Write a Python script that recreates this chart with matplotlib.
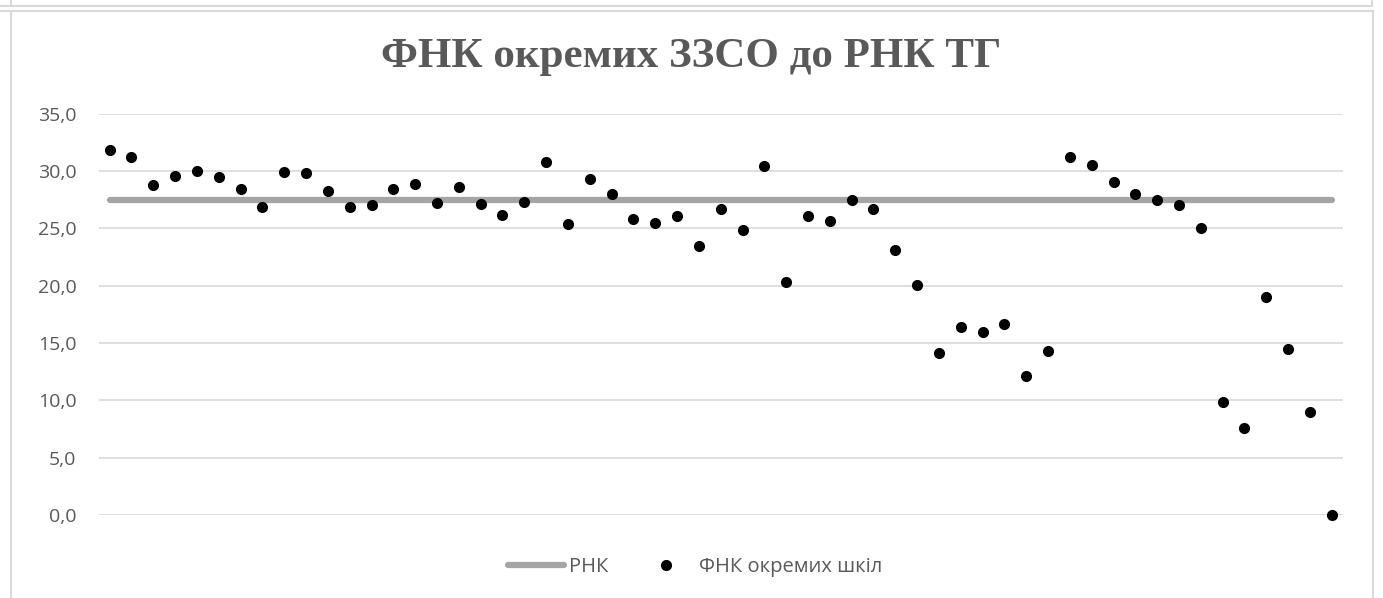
import numpy as np
import matplotlib
matplotlib.use("Agg")
import matplotlib.pyplot as plt
from matplotlib.lines import Line2D

# values
school_idx = list(range(1, 58))
fnk = [31.8, 31.2, 28.8, 29.6, 30.0, 29.5, 28.4, 26.9, 29.9, 29.8,
       28.3, 26.9, 27.0, 28.4, 28.9, 27.2, 28.6, 27.1, 26.2, 27.3,
       30.8, 25.4, 29.3, 28.0, 25.8, 25.5, 26.1, 23.5, 26.7, 24.9,
       30.4, 20.3, 26.1, 25.6, 27.5, 26.7, 23.1, 20.1, 14.1, 16.4,
       16.0, 16.7, 12.1, 14.3, 31.2, 30.5, 29.0, 28.0, 27.5, 27.0,
       25.0, 9.85, 7.6, 19.0, 14.5, 9.0, 0.0]
rnk = [27.5] * len(school_idx)
yticks = [0, 5, 10, 15, 20, 25, 30, 35]

title = "ФНК окремих ЗЗСО до РНК ТГ"
label_rnk = "РНК"
label_fnk = "ФНК окремих шкіл"

txt_col = "#595959"
W, H = 1383, 598
fig = plt.figure(figsize=(W / 100, H / 100), dpi=100)
ax = fig.add_axes([98.7 / W, 1 - 515 / H, (1342.7 - 98.7) / W, (515 - 113.7) / H])

ax.plot(school_idx, rnk, color="#a5a5a5", lw=4.5, solid_capstyle="round", zorder=2)
ax.plot(school_idx, fnk, ls="none", marker="o", ms=7, color="black", zorder=3, clip_on=False)

ax.set_xlim(0.5, len(school_idx) + 0.5)
ax.set_ylim(0, 35)
ax.set_yticks(yticks)
ax.set_yticklabels([f"{v:.1f}".replace(".", ",") for v in yticks],
                   fontsize=14, color=txt_col, family="Open Sans")
ax.set_xticks([])
ax.tick_params(axis="y", length=0, pad=16)
ax.grid(axis="y", color="#d9d9d9", lw=1.2, zorder=0)
ax.set_axisbelow(True)
for s in ax.spines.values():
    s.set_visible(False)

fig.text(0.5, 1 - 57 / H, title, ha="center", va="center", fontsize=31,
         fontweight="bold", family="Liberation Serif", color=txt_col)

handles = [Line2D([], [], color="#a5a5a5", lw=4.5, solid_capstyle="round"),
           Line2D([], [], ls="none", marker="o", ms=7, color="black")]
fig.legend(handles, [label_rnk, label_fnk], loc="center", bbox_to_anchor=(695 / W, 1 - 567 / H),
           ncol=2, frameon=False, prop={"family": "Open Sans", "size": 14.5},
           labelcolor=txt_col, handlelength=2.75, handletextpad=0.25, columnspacing=1.5)

# frame lines of the screenshot
fc = "#d9d9d9"
fig.add_artist(Line2D([0, 1372 / W], [1 - 5.5 / H] * 2, color=fc, lw=1.5, transform=fig.transFigure))
fig.add_artist(Line2D([1372 / W] * 2, [1, 1 - 5.5 / H], color=fc, lw=1.5, transform=fig.transFigure))
fig.add_artist(Line2D([11 / W] * 2, [1, 1 - 5.5 / H], color=fc, lw=1.5, transform=fig.transFigure))
fig.add_artist(Line2D([0, 1373 / W], [1 - 10.5 / H] * 2, color=fc, lw=1.5, transform=fig.transFigure))
fig.add_artist(Line2D([11 / W] * 2, [1 - 10.5 / H, 0], color=fc, lw=1.5, transform=fig.transFigure))
fig.add_artist(Line2D([1373 / W] * 2, [1 - 10.5 / H, 0], color=fc, lw=1.5, transform=fig.transFigure))

fig.savefig("out.png", dpi=100)
